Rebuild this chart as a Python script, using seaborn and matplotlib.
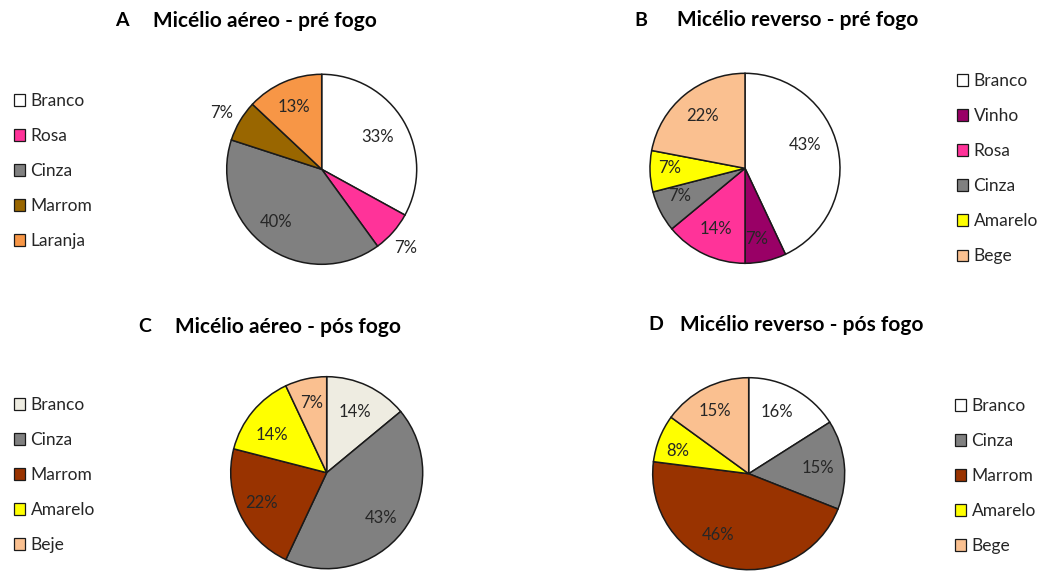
import numpy as np
import matplotlib
matplotlib.use("Agg")
import matplotlib.pyplot as plt
from matplotlib.patches import Patch
import seaborn as sns

# ---------------- data ----------------
a_labels = ["Branco", "Rosa", "Cinza", "Marrom", "Laranja"]
a_values = [33, 7, 40, 7, 13]
a_colors = ["#FFFFFF", "#FF3399", "#808080", "#996600", "#F79646"]

b_labels = ["Branco", "Vinho", "Rosa", "Cinza", "Amarelo", "Bege"]
b_values = [43, 7, 14, 7, 7, 22]
b_colors = ["#FFFFFF", "#990066", "#FF3399", "#808080", "#FFFF00", "#FAC090"]

c_labels = ["Branco", "Cinza", "Marrom", "Amarelo", "Beje"]
c_values = [14, 43, 22, 14, 7]
c_colors = ["#EEECE1", "#808080", "#993300", "#FFFF00", "#FAC090"]

d_labels = ["Branco", "Cinza", "Marrom", "Amarelo", "Bege"]
d_values = [16, 15, 46, 8, 15]
d_colors = ["#FFFFFF", "#808080", "#993300", "#FFFF00", "#FAC090"]

titles = ["Micélio aéreo - pré fogo", "Micélio reverso - pré fogo",
          "Micélio aéreo - pós fogo", "Micélio reverso - pós fogo"]
letters = ["A", "B", "C", "D"]

# ---------------- style ----------------
sns.set_theme(style="white")
plt.rcParams["font.family"] = ["Lato", "DejaVu Sans"]

W, H = 1049, 571
fig = plt.figure(figsize=(W / 100, H / 100), dpi=100)
fig.patch.set_facecolor("white")

# layout (pixels) per panel
layout = [
    dict(center=(321.7, 169.3), r=95, letter_x=121.5, title_x=153, title_y=21,
         leg=(14, 100), ldist=[0.68, 1.21, 0.73, 1.21, 0.72], lshift=[-1, -2, -5, 1, 1]),
    dict(center=(745.0, 168.3), r=95, letter_x=641, title_x=677, title_y=20,
         leg=(957, 80), ldist=[0.68, 0.75, 0.71, 0.75, 0.79, 0.71], lshift=[9, -3, 0, -4, -2, 0]),
    dict(center=(326.7, 472.7), r=96, letter_x=145, title_x=175, title_y=327,
         leg=(14, 404), ldist=[0.70, 0.74, 0.75, 0.69, 0.74], lshift=[0, -2, 0, 5, 0]),
    dict(center=(748.7, 473.7), r=96, letter_x=656, title_x=680, title_y=325,
         leg=(955, 405), ldist=[0.71, 0.72, 0.71, 0.77, 0.74], lshift=[4, -1, -12, 4, 1]),
]

panels = [(a_labels, a_values, a_colors), (b_labels, b_values, b_colors),
          (c_labels, c_values, c_colors), (d_labels, d_values, d_colors)]

R = 1.3
for (labels, values, colors), lay, letter, title in zip(panels, layout, letters, titles):
    cx, cy = lay["center"]
    r = lay["r"]
    rect = [(cx - R * r) / W, (H - cy - R * r) / H, 2 * R * r / W, 2 * R * r / H]
    ax = fig.add_axes(rect)
    wedges, _ = ax.pie(values, colors=colors, startangle=90, counterclock=False,
                       radius=1, wedgeprops=dict(edgecolor="#1a1a1a", linewidth=1.1))
    ax.set_xlim(-R, R)
    ax.set_ylim(-R, R)
    ax.set_aspect("equal")
    ax.axis("off")
    for w, v, d, s in zip(wedges, values, lay["ldist"], lay["lshift"]):
        mid = np.deg2rad((w.theta1 + w.theta2) / 2 + s)
        ax.text(d * np.cos(mid), d * np.sin(mid), f"{v}%", ha="center", va="center",
                fontsize=12, color="#262626")

    # titles
    fig.text(lay["letter_x"] / W, 1 - lay["title_y"] / H, letter, ha="center", va="center",
             fontsize=14, fontweight="bold", color="black")
    fig.text(lay["title_x"] / W, 1 - lay["title_y"] / H, title, ha="left", va="center",
             fontsize=15, fontweight="bold", color="black")

    # legend
    handles = [Patch(facecolor=c, edgecolor="#1a1a1a", linewidth=0.9) for c in colors]
    lx, ly = lay["leg"]
    fig.legend(handles, labels, loc="upper left",
               bbox_to_anchor=(lx / W, 1 - (ly - 7) / H),
               frameon=False, fontsize=12.5, handlelength=0.65, handleheight=0.65,
               handletextpad=0.3, labelspacing=1.1, borderpad=0, borderaxespad=0,
               labelcolor="#262626")

fig.savefig("out.png", dpi=100, facecolor="white")
